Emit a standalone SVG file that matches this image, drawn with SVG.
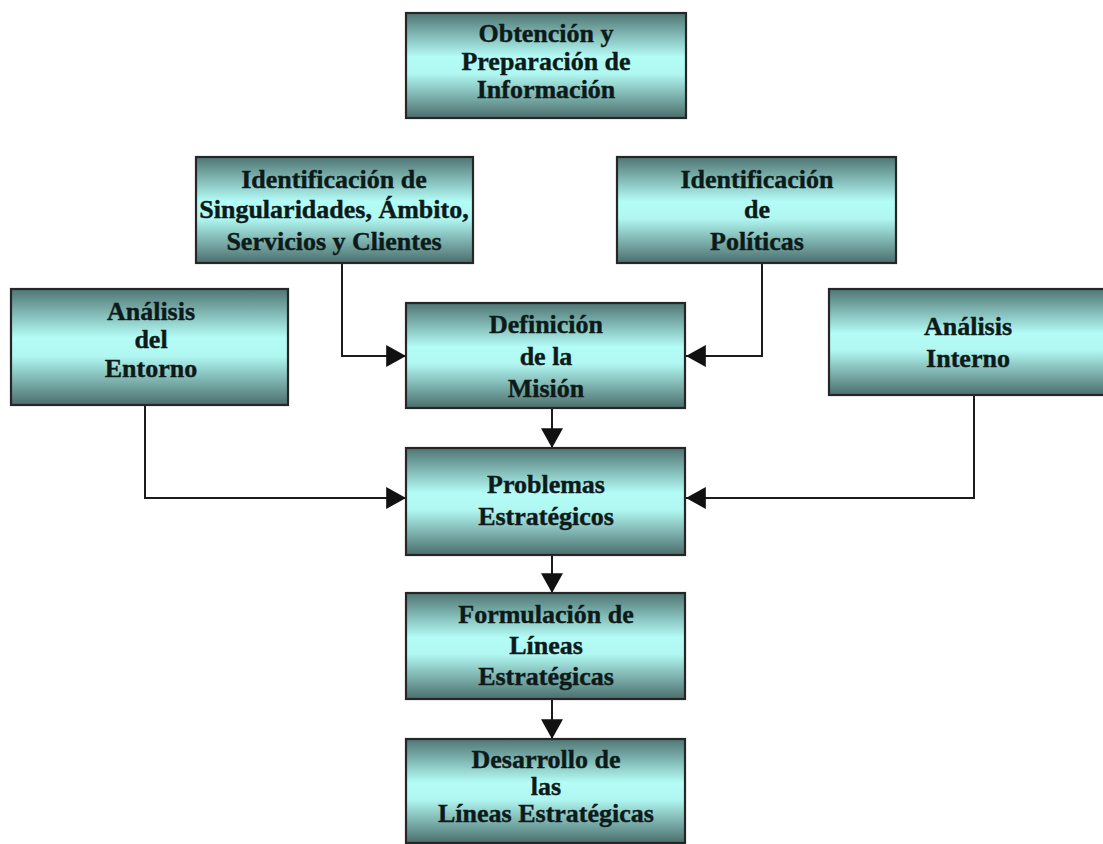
<svg xmlns="http://www.w3.org/2000/svg" width="1103" height="844" viewBox="0 0 1103 844">
  <defs>
    <linearGradient id="tube" x1="0" y1="0" x2="0" y2="1">
      <stop offset="0" stop-color="#4f7573"/>
      <stop offset="0.42" stop-color="#b4fcf6"/>
      <stop offset="0.58" stop-color="#b0f7f1"/>
      <stop offset="1" stop-color="#4b6e6c"/>
    </linearGradient>
    <marker id="head" markerUnits="userSpaceOnUse" markerWidth="20" markerHeight="22" viewBox="0 0 18 20" refX="18" refY="10" orient="auto">
      <path d="M0,0 L18,10 L0,20 Z" fill="#111"/>
    </marker>
    <style>
      .box { fill: url(#tube); stroke: #262626; stroke-width: 2.2; }
      .lbl { font-family: "Liberation Serif", "Times New Roman", serif; font-weight: bold; font-size: 26px; fill: #0d1a1a; stroke: #0d1a1a; stroke-width: 0.4; text-anchor: middle; }
      .wire { fill: none; stroke: #1c1c1c; stroke-width: 2; marker-end: url(#head); }
    </style>
  </defs>
  <rect width="1103" height="844" fill="#ffffff"/>

  <g id="connectors">
    <path class="wire" d="M342,263 V356 H406"/>
    <path class="wire" d="M762,263 V356 H686"/>
    <path class="wire" d="M145,405 V498 H406"/>
    <path class="wire" d="M974,395 V498 H686"/>
    <path class="wire" d="M552,408 V448"/>
    <path class="wire" d="M552,555 V593"/>
    <path class="wire" d="M552,699 V739"/>
  </g>

  <g id="obtencion">
    <rect class="box" x="406" y="13" width="280" height="105"/>
    <text class="lbl" x="546" y="42">Obtención y</text>
    <text class="lbl" x="546" y="70">Preparación de</text>
    <text class="lbl" x="546" y="98">Información</text>
  </g>

  <g id="singularidades">
    <rect class="box" x="196" y="157" width="277" height="106"/>
    <text class="lbl" x="334" y="188">Identificación de</text>
    <text class="lbl" x="334" y="218">Singularidades, Ámbito,</text>
    <text class="lbl" x="334" y="250">Servicios y Clientes</text>
  </g>

  <g id="politicas">
    <rect class="box" x="617" y="157" width="279" height="106"/>
    <text class="lbl" x="757" y="188">Identificación</text>
    <text class="lbl" x="757" y="218">de</text>
    <text class="lbl" x="757" y="250">Políticas</text>
  </g>

  <g id="entorno">
    <rect class="box" x="11" y="289" width="277" height="116"/>
    <text class="lbl" x="151" y="320">Análisis</text>
    <text class="lbl" x="151" y="348">del</text>
    <text class="lbl" x="151" y="377">Entorno</text>
  </g>

  <g id="mision">
    <rect class="box" x="406" y="303" width="279" height="105"/>
    <text class="lbl" x="546" y="333">Definición</text>
    <text class="lbl" x="546" y="365">de la</text>
    <text class="lbl" x="546" y="397">Misión</text>
  </g>

  <g id="interno">
    <rect class="box" x="829" y="289" width="280" height="106"/>
    <text class="lbl" x="968" y="335">Análisis</text>
    <text class="lbl" x="968" y="367">Interno</text>
  </g>

  <g id="problemas">
    <rect class="box" x="406" y="448" width="279" height="107"/>
    <text class="lbl" x="546" y="493">Problemas</text>
    <text class="lbl" x="546" y="525">Estratégicos</text>
  </g>

  <g id="formulacion">
    <rect class="box" x="406" y="593" width="279" height="106"/>
    <text class="lbl" x="546" y="623">Formulación de</text>
    <text class="lbl" x="546" y="654">Líneas</text>
    <text class="lbl" x="546" y="685">Estratégicas</text>
  </g>

  <g id="desarrollo">
    <rect class="box" x="406" y="739" width="279" height="104"/>
    <text class="lbl" x="546" y="768">Desarrollo de</text>
    <text class="lbl" x="546" y="795">las</text>
    <text class="lbl" x="546" y="822">Líneas Estratégicas</text>
  </g>
</svg>
